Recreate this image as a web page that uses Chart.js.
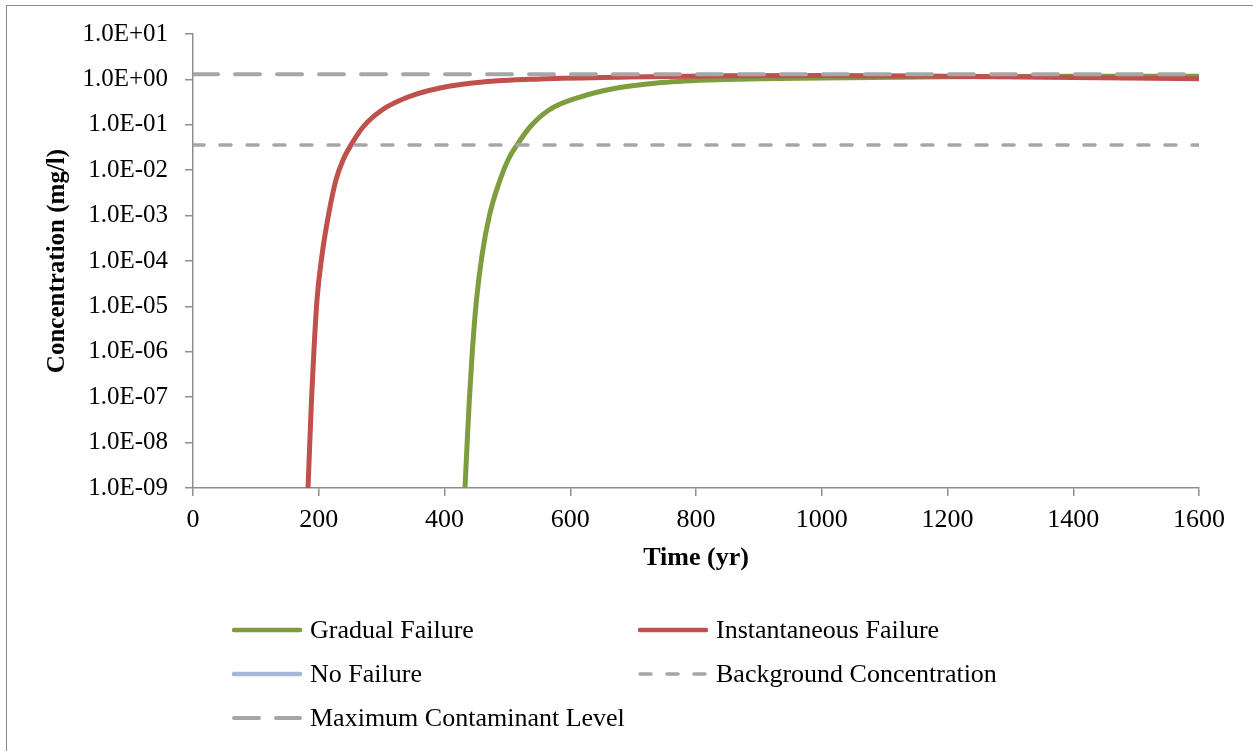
<!DOCTYPE html>
<html>
<head>
<meta charset="utf-8">
<script src="https://cdn.jsdelivr.net/npm/chart.js@4.4.1/dist/chart.umd.min.js"></script>
<style>
  html, body { margin: 0; padding: 0; background: #fff; overflow: hidden; }
  #wrap { position: relative; width: 1253px; height: 751px; }
  #frame { position: absolute; left: 6px; top: 5px; width: 1300px; height: 800px; border: 1px solid #8a8a8a; }
  #myChart { position: absolute; left: 0; top: 0; }
  .leg { position: absolute; display: flex; align-items: center; height: 30px;
         font-family: "Liberation Serif", "Times New Roman", serif; font-size: 26px; color: #000; white-space: nowrap; }
  .leg svg { margin-right: 6px; }
</style>
</head>
<body>
<div id="wrap">
  <div id="frame"></div>
  <canvas id="myChart" width="1253" height="751"></canvas>
  <div id="legend"></div>
</div>
<script>
// values
var gradYears = [432.6, 435.5, 439.5, 444.4, 450.9, 459.7, 471.6, 488.3, 501, 515.3, 536, 566.2, 615.5, 674.4, 738, 822, 900, 1000, 1200, 1400, 1600];
var gradConc  = [1e-9, 6.9e-9, 8.7e-8, 1.1e-6, 1.4e-5, 1.35e-4, 1.03e-3, 6.1e-3, 0.0168, 0.0359, 0.0895, 0.212, 0.409, 0.647, 0.834, 0.97, 1.03, 1.08, 1.14, 1.17, 1.18];

var instYears = [182.9, 185.3, 188.5, 192.4, 197.2, 205.2, 215.5, 227.4, 238.6, 251.3, 270.4, 300.6, 342, 392.9, 461.2, 552, 695, 850, 1000, 1200, 1400, 1600];
var instConc  = [1e-9, 6.9e-9, 8.7e-8, 1.1e-6, 1.4e-5, 1.35e-4, 1.03e-3, 6.1e-3, 0.0168, 0.0359, 0.0895, 0.212, 0.409, 0.647, 0.877, 1.02, 1.13, 1.2, 1.22, 1.17, 1.1, 1.04];

var noFailYears = [];
var noFailConc  = [];

var lineYears = [0, 1600];
var backgroundConc = [0.036, 0.036];
var mclConc = [1.3, 1.3];

var xTicks = [0, 200, 400, 600, 800, 1000, 1200, 1400, 1600];
var yTickValues = [1e-9, 1e-8, 1e-7, 1e-6, 1e-5, 1e-4, 1e-3, 1e-2, 1e-1, 1e0, 1e1];
var yTickLabels = ['1.0E-09', '1.0E-08', '1.0E-07', '1.0E-06', '1.0E-05', '1.0E-04',
                   '1.0E-03', '1.0E-02', '1.0E-01', '1.0E+00', '1.0E+01'];

function pts(xs, ys) {
    return xs.map(function (x, i) { return { x: x, y: ys[i] }; });
}

var axisGray = '#8e8e8e';
var serif = '"Liberation Serif", "Times New Roman", serif';

var datasets = [
    { label: 'Gradual Failure', data: pts(gradYears, gradConc), borderColor: '#7e9d3e', borderWidth: 5, order: 2 },
    { label: 'Instantaneous Failure', data: pts(instYears, instConc), borderColor: '#c0504d', borderWidth: 5, order: 1 },
    { label: 'No Failure', data: pts(noFailYears, noFailConc), borderColor: '#a3b8da', borderWidth: 5, order: 3 },
    { label: 'Background Concentration', data: pts(lineYears, backgroundConc), borderColor: '#a6a6a6', borderWidth: 3.5,
      borderDash: [11, 16], borderCapStyle: 'round', order: 0 },
    { label: 'Maximum Contaminant Level', data: pts(lineYears, mclConc), borderColor: '#a6a6a6', borderWidth: 4,
      borderDash: [25, 17], borderCapStyle: 'round', order: 0 }
];
datasets.forEach(function (d) {
    d.pointRadius = 0;
    d.fill = false;
    d.cubicInterpolationMode = 'monotone';
});

var ctx = document.getElementById('myChart').getContext('2d');
var chart = new Chart(ctx, {
    type: 'line',
    data: { datasets: datasets },
    options: {
        responsive: false,
        animation: false,
        devicePixelRatio: 1,
        layout: { padding: { left: 0, top: 34, right: 54, bottom: 177 } },
        plugins: { legend: { display: false }, tooltip: { enabled: false } },
        scales: {
            x: {
                type: 'linear', min: 0, max: 1600,
                afterBuildTicks: function (s) { s.ticks = xTicks.map(function (v) { return { value: v }; }); },
                afterFit: function (s) { s.height = 86; },
                grid: { drawOnChartArea: false, drawTicks: true, tickLength: 8, color: axisGray, lineWidth: 1.5 },
                border: { display: true, color: axisGray, width: 1.5 },
                ticks: { color: '#000', font: { family: serif, size: 26 }, padding: 9, maxRotation: 0,
                         callback: function (value) { return String(value); } },
                title: { display: true, text: 'Time (yr)', color: '#000', padding: { top: 0, bottom: 0 },
                         font: { family: serif, size: 26, weight: 'bold' } }
            },
            y: {
                type: 'logarithmic', min: 1e-9, max: 10,
                afterBuildTicks: function (s) { s.ticks = yTickValues.map(function (v) { return { value: v }; }); },
                afterFit: function (s) { s.width = 193; },
                grid: { drawOnChartArea: false, drawTicks: true, tickLength: 8, color: axisGray, lineWidth: 1.5 },
                border: { display: true, color: axisGray, width: 1.5 },
                ticks: {
                    color: '#000', font: { family: serif, size: 25 }, padding: 17,
                    callback: function (value) {
                        var i = Math.round(Math.log10(value)) + 9;
                        return yTickLabels[i];
                    }
                },
                title: { display: true, text: 'Concentration (mg/l)', color: '#000', padding: { top: 43, bottom: 0 },
                         font: { family: serif, size: 25, weight: 'bold' } }
            }
        }
    }
});

// legend in two columns, like the original
function buildLegend(chart) {
    var colX = [232, 638];
    var rowY = [630, 674, 718];
    var box = document.getElementById('legend');
    box.innerHTML = '';
    chart.data.datasets.forEach(function (d, i) {
        var el = document.createElement('div');
        el.className = 'leg';
        el.style.left = colX[i % 2] + 'px';
        el.style.top = (rowY[Math.floor(i / 2)] - 15) + 'px';
        var dash = d.borderDash ? d.borderDash.join(' ') : 'none';
        el.innerHTML = '<svg width="72" height="10"><line x1="2" y1="5" x2="68" y2="5" stroke="' + d.borderColor +
            '" stroke-width="' + Math.min(d.borderWidth, 4.5) + '" stroke-linecap="round" stroke-dasharray="' + dash + '"/></svg>' +
            '<span>' + d.label + '</span>';
        box.appendChild(el);
    });
}
buildLegend(chart);
</script>
</body>
</html>
